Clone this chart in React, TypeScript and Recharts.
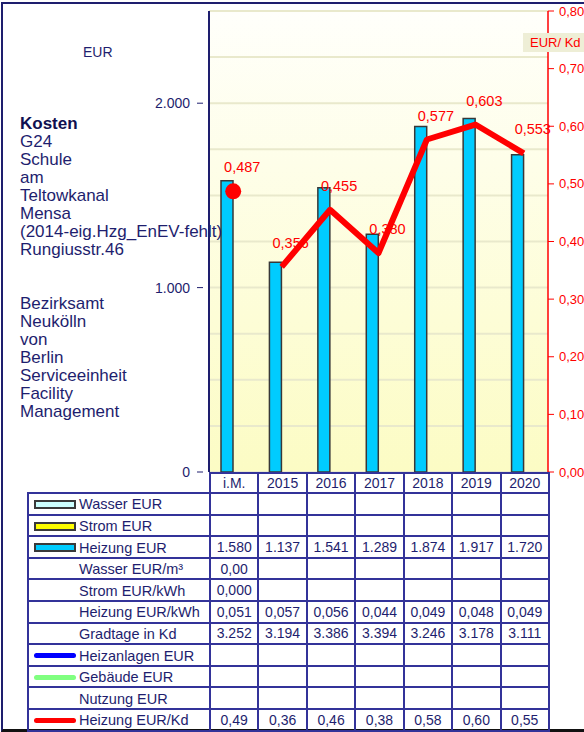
import React from 'react';
import {
  ComposedChart, Bar, Line, XAxis, YAxis, CartesianGrid, LabelList,
} from 'recharts';

const categories = ['i.M.', '2015', '2016', '2017', '2018', '2019', '2020'];
const heizungEur = [1580, 1137, 1541, 1289, 1874, 1917, 1720];
const heizungEurKwh = [0.051, 0.057, 0.056, 0.044, 0.049, 0.048, 0.049];
const gradtage = [3252, 3194, 3386, 3394, 3246, 3178, 3111];
const heizungEurKd = [0.487, 0.356, 0.455, 0.38, 0.577, 0.603, 0.553];
const wasserEurM3 = ['0,00', '', '', '', '', '', ''];
const stromEurKwh = ['0,000', '', '', '', '', '', ''];

const leftTicks = [0, 250, 500, 750, 1000, 1250, 1500, 1750, 2000, 2250, 2500];
const leftLabeled = [0, 1000, 2000];
const rightTicks = [0, 0.1, 0.2, 0.3, 0.4, 0.5, 0.6, 0.7, 0.8];

const infoLines = [
  'G24', 'Schule', 'am', 'Teltowkanal', 'Mensa', '(2014-eig.Hzg_EnEV-fehlt)', 'Rungiusstr.46',
  '', '', 'Bezirksamt', 'Neukölln', 'von', 'Berlin', 'Serviceeinheit', 'Facility', 'Management',
];

const NAVY = '#1e1e6e';
const GRID_NAVY = '#333399';
const RED = '#ff0000';
const FONT = 'Arial, "Liberation Sans", sans-serif';

const thousands = (v: number) => {
  const s = String(Math.round(v));
  return s.replace(/\B(?=(\d{3})+(?!\d))/g, '.');
};
const comma = (v: number, d: number) => v.toFixed(d).replace('.', ',');

// avg (i.M.) is shown as a lone dot, the yearly values as a connected line
const chartData = categories.map((cat, i) => ({
  cat,
  heizung: heizungEur[i],
  spacer: null,
  kd: i === 0 ? null : heizungEurKd[i],
  avg: i === 0 ? heizungEurKd[i] : null,
}));

const LeftTick = (props: any) => {
  const { x, y, payload } = props;
  if (!leftLabeled.includes(payload.value)) return null;
  return (
    <g>
      <line x1={x - 6} x2={x} y1={y} y2={y} stroke={NAVY} strokeWidth={1} />
      <text x={x - 13} y={y} dy="0.35em" textAnchor="end" fill={NAVY} fontSize={14} fontFamily={FONT}>
        {thousands(payload.value)}
      </text>
    </g>
  );
};

const KdLabel = (props: any) => {
  const { x, y, value } = props;
  if (value == null) return null;
  return (
    <text x={x + 9} y={y - 24} dy="0.35em" textAnchor="middle" fill={RED} fontSize={14.5} fontFamily={FONT}>
      {comma(value, 3)}
    </text>
  );
};

type Row = {
  label: string;
  swatch?: { kind: 'box' | 'line'; color: string };
  values: string[];
};

const rows: Row[] = [
  { label: 'Wasser EUR', swatch: { kind: 'box', color: '#ccffff' }, values: categories.map(() => '') },
  { label: 'Strom EUR', swatch: { kind: 'box', color: '#ffff00' }, values: categories.map(() => '') },
  { label: 'Heizung EUR', swatch: { kind: 'box', color: '#00ccff' }, values: heizungEur.map(thousands) },
  { label: 'Wasser EUR/m³', values: wasserEurM3 },
  { label: 'Strom EUR/kWh', values: stromEurKwh },
  { label: 'Heizung EUR/kWh', values: heizungEurKwh.map((v) => comma(v, 3)) },
  { label: 'Gradtage in Kd', values: gradtage.map(thousands) },
  { label: 'Heizanlagen EUR', swatch: { kind: 'line', color: '#0000ff' }, values: categories.map(() => '') },
  { label: 'Gebäude EUR', swatch: { kind: 'line', color: '#80ff80' }, values: categories.map(() => '') },
  { label: 'Nutzung EUR', values: categories.map(() => '') },
  { label: 'Heizung EUR/Kd', swatch: { kind: 'line', color: RED }, values: heizungEurKd.map((v) => comma(v, 2)) },
];

const cellBorder = `2px solid ${GRID_NAVY}`;

function Swatch({ s }: { s?: Row['swatch'] }) {
  if (!s) return <span style={{ display: 'inline-block', width: 42 }} />;
  if (s.kind === 'box') {
    return (
      <span style={{
        display: 'inline-block', width: 38, height: 5, background: s.color,
        border: '2px solid #3a3a3a', verticalAlign: 'middle',
      }} />
    );
  }
  return (
    <span style={{
      display: 'inline-block', width: 42, height: 5, background: s.color,
      borderRadius: 3, verticalAlign: 'middle',
    }} />
  );
}

function DataTable() {
  return (
    <table style={{
      position: 'absolute', left: 27, top: 472, width: 522, borderCollapse: 'collapse',
      tableLayout: 'fixed', fontFamily: FONT, fontSize: 14, color: NAVY,
    }}>
      <colgroup>
        <col style={{ width: 182 }} />
        {categories.map((c) => <col key={c} style={{ width: 48.43 }} />)}
      </colgroup>
      <tbody>
        <tr style={{ height: 20 }}>
          <td style={{ border: 'none', borderBottom: cellBorder }} />
          {categories.map((c) => (
            <td key={c} style={{ border: cellBorder, textAlign: 'center', padding: 0 }}>{c}</td>
          ))}
        </tr>
        {rows.map((r) => (
          <tr key={r.label} style={{ height: 21.6 }}>
            <td style={{ border: cellBorder, padding: '0 0 0 5px', whiteSpace: 'nowrap', overflow: 'hidden' }}>
              <Swatch s={r.swatch} />
              <span style={{ marginLeft: 3, verticalAlign: 'middle', fontSize: 14.5 }}>{r.label}</span>
            </td>
            {r.values.map((v, i) => (
              <td key={i} style={{ border: cellBorder, textAlign: 'center', padding: 0 }}>{v}</td>
            ))}
          </tr>
        ))}
      </tbody>
    </table>
  );
}

export default function App() {
  return (
    <div style={{
      position: 'absolute', left: 0, top: 0, width: 584, height: 732,
      overflow: 'hidden', background: '#fff', fontFamily: FONT,
    }}>
      <div style={{
        position: 'absolute', left: 1, top: 2, width: 600, height: 725,
        borderTop: `2px solid ${NAVY}`, borderLeft: `2px solid ${NAVY}`, borderBottom: '3px solid #111',
      }} />

      <div style={{ position: 'absolute', left: 0, top: 0 }}>
        <ComposedChart
          width={584}
          height={480}
          data={chartData}
          margin={{ top: 11, right: 0, bottom: 8, left: 0 }}
          barGap={0}
        >
          <defs>
            <linearGradient id="plotBg" x1="0" y1="0" x2="0" y2="1">
              <stop offset="0%" stopColor="#fffffb" />
              <stop offset="100%" stopColor="#fcfcc4" />
            </linearGradient>
          </defs>
          <CartesianGrid
            yAxisId="left"
            vertical={false}
            stroke="#e9e9cc"
            strokeWidth={2}
            fill="url(#plotBg)"
            fillOpacity={1}
          />
          <XAxis dataKey="cat" hide />
          <YAxis
            yAxisId="left"
            width={209}
            domain={[0, 2500]}
            ticks={leftTicks}
            interval={0}
            tickLine={false}
            tickMargin={0}
            tick={<LeftTick />}
            axisLine={{ stroke: NAVY, strokeWidth: 2 }}
          />
          <YAxis
            yAxisId="right"
            orientation="right"
            width={36}
            domain={[0, 0.8]}
            ticks={rightTicks}
            interval={0}
            tickSize={6}
            tickMargin={5}
            tickLine={{ stroke: RED }}
            axisLine={{ stroke: RED, strokeWidth: 1.5 }}
            tick={{ fill: RED, fontSize: 13, fontFamily: FONT, textAnchor: 'start' }}
            tickFormatter={(v: number) => comma(v, 2)}
          />
          <Bar
            yAxisId="left"
            dataKey="heizung"
            barSize={12}
            fill="#00ccff"
            stroke="#383838"
            strokeWidth={1.5}
            isAnimationActive={false}
          />
          <Bar yAxisId="left" dataKey="spacer" barSize={12} fill="none" isAnimationActive={false} />
          <Line
            yAxisId="right"
            dataKey="kd"
            stroke={RED}
            strokeWidth={6}
            dot={false}
            activeDot={false}
            strokeLinejoin="round"
            isAnimationActive={false}
          >
            <LabelList dataKey="kd" content={<KdLabel />} />
          </Line>
          <Line
            yAxisId="right"
            dataKey="avg"
            stroke="none"
            dot={{ r: 8, fill: RED, stroke: 'none' }}
            activeDot={false}
            isAnimationActive={false}
          >
            <LabelList dataKey="avg" content={<KdLabel />} />
          </Line>
        </ComposedChart>
      </div>

      <div style={{ position: 'absolute', left: 83, top: 44, fontSize: 14, color: NAVY }}>EUR</div>

      <div style={{
        position: 'absolute', left: 523, top: 33, width: 61, height: 19, background: '#eeeed6',
        color: RED, fontSize: 13, lineHeight: '19px', paddingLeft: 7, boxSizing: 'border-box',
      }}>
        EUR/ Kd
      </div>

      <div style={{
        position: 'absolute', left: 20, top: 115, fontSize: 17, lineHeight: '18px', color: NAVY,
        whiteSpace: 'nowrap',
      }}>
        <div style={{ fontWeight: 'bold', color: '#101050' }}>Kosten</div>
        {infoLines.map((t, i) => <div key={i} style={{ height: 18 }}>{t}</div>)}
      </div>

      <DataTable />
    </div>
  );
}
